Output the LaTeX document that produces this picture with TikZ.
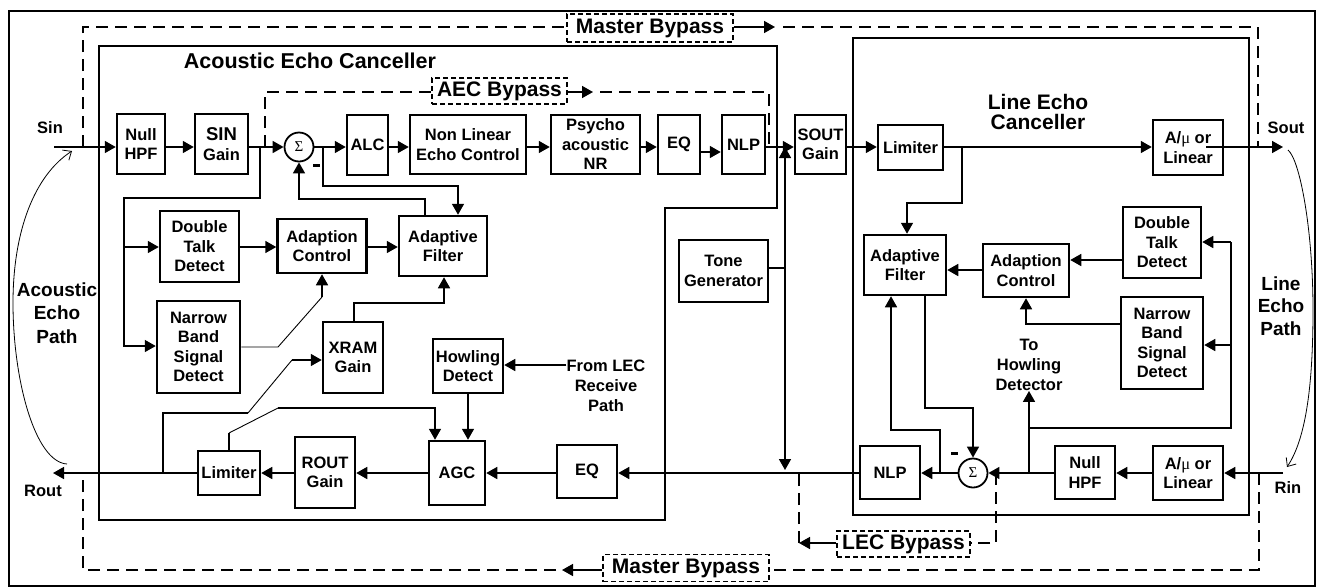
\documentclass[tikz,border=0pt]{standalone}
\usepackage{fontspec}
\setmainfont{Liberation Sans}
\newfontfamily\symfnt{Liberation Serif}
\usetikzlibrary{arrows.meta}

\newcommand\amutxt{A/{\symfnt\mdseries μ} or\\Linear}

\begin{document}
\begin{tikzpicture}[x=1pt,y=-1pt,
  blk/.style={draw,line width=2.5pt,inner sep=0pt,align=center,
    font=\fontsize{16.5}{19.5}\selectfont\bfseries},
  lbl/.style={inner sep=0pt,align=center,font=\fontsize{16.5}{20}\selectfont\bfseries},
  ttl/.style={inner sep=0pt,align=center,font=\fontsize{21}{20.5}\selectfont\bfseries},
  bylbl/.style={draw,line width=1.3pt,dash pattern=on 5pt off 3pt,inner sep=0pt,
    font=\fontsize{21}{21}\selectfont\bfseries},
  sumnode/.style={draw,circle,line width=1.8pt,minimum size=29pt,inner sep=0pt,
    font=\fontsize{15}{15}\selectfont\symfnt},
  minus/.style={fill,minimum width=7pt,minimum height=3pt,inner sep=0pt},
  wire/.style={line width=1.6pt},
  thinwire/.style={line width=0.9pt},
  sig/.style={wire,-{Triangle[length=11pt,width=12pt]}},
  byp/.style={line width=1.5pt,dash pattern=on 12pt off 7pt},
  echo/.style={line width=0.8pt,-{Straight Barb[length=7pt,width=12pt]}}]
  \useasboundingbox (0,0) rectangle (1322,587);
  \draw[line width=2pt] (9,11) rectangle (1315,586);

  % canceller outlines
  \draw[line width=2pt] (99,46) -- (777,46) -- (777,208) -- (665,208)
    -- (665,520) -- (99,520) -- cycle;
  \draw[line width=2pt] (853,38) rectangle (1249,515);
  \node[ttl,font=\fontsize{21.5}{21}\selectfont\bfseries] (ttlA) at (310,61) {Acoustic Echo Canceller};
  \node[ttl] (ttlL) at (1038,112) {Line Echo\\Canceller};

  % blocks
  \foreach \nm/\px/\py/\w/\h/\txt in {
    hpfA/141/144/48/60/{Null\\HPF},
    sinG/221.5/144/53/60/{{\fontsize{18.5}{19}\selectfont SIN}\\Gain},
    alc/367.5/145/41/60/{ALC},
    nlec/468/144.5/116/59/{Non Linear\\Echo Control},
    pnr/595.5/144.5/89/59/{Psycho\\acoustic\\NR},
    eqA/679/144.5/42/59/{EQ},
    nlpA/743.5/144.5/43/59/{NLP},
    soutG/820.5/144.5/51/59/{SOUT\\Gain},
    dtdA/199.5/246.5/79/71/{Double\\Talk\\Detect},
    adcA/322/246/89/54/{Adaption\\Control},
    afA/443/246/88/60/{Adaptive\\Filter},
    nbA/198.5/347/83/92/{Narrow\\Band\\Signal\\Detect},
    xram/353/357.5/60/71/{XRAM\\Gain},
    howl/468/366/70/54/{Howling\\Detect},
    tone/723.5/271/89/62/{Tone\\Generator},
    limA/229/473/62/44/{Limiter},
    routG/325/472.5/60/71/{ROUT\\Gain},
    agc/457/473/56/64/{AGC},
    eqR/587/471.5/60/53/{EQ},
    limL/910.5/147.5/65/45/{Limiter},
    amuT/1188/147.5/70/55/{\amutxt},
    afL/905/265/82/60/{Adaptive\\Filter},
    adcL/1026/270.5/86/53/{Adaption\\Control},
    dtdL/1162/242.5/78/71/{Double\\Talk\\Detect},
    nbL/1162/343/82/92/{Narrow\\Band\\Signal\\Detect},
    nlpL/890/472.5/60/53/{NLP},
    hpfL/1085/472.5/60/53/{Null\\HPF},
    amuB/1188/473/70/54/{\amutxt}}
    \node[blk,minimum width=\w pt,minimum height=\h pt] (\nm) at (\px,\py) {\txt};
  \node[sumnode] (sumA) at (299,147) {Σ};
  \node[sumnode] (sumL) at (973,473) {Σ};
  \node[minus] (minA) at (316,165) {};
  \node[minus] (minL) at (954,453) {};

  % labels
  \node[lbl] (sinLbl) at (50,128) {Sin};
  \node[lbl] (soutLbl) at (1286,128) {Sout};
  \node[lbl] (rinLbl) at (1288,488) {Rin};
  \node[lbl] (routLbl) at (43,491) {Rout};
  \node[lbl,font=\fontsize{19}{23.5}\selectfont\bfseries] (aePath) at (57,313) {Acoustic\\Echo\\Path};
  \node[lbl,font=\fontsize{19}{22.5}\selectfont\bfseries] (lePath) at (1281,306) {Line\\Echo\\Path};
  \node[lbl] (fromLec) at (606,386) {From LEC\\Receive\\Path};
  \node[lbl] (toHowl) at (1029,365) {To\\Howling\\Detector};
  \node[bylbl,minimum width=166pt,minimum height=28pt] (mbTop) at (650,28) {Master Bypass};
  \node[bylbl,minimum width=166pt,minimum height=27pt] (mbBot) at (686,568) {Master Bypass};
  \node[bylbl,minimum width=135pt,minimum height=26pt] (aecBy) at (499.5,91) {AEC Bypass};
  \node[bylbl,minimum width=133pt,minimum height=26pt] (lecBy) at (903.5,544) {LEC Bypass};

  \coordinate (sinIn) at (54,147);
  \coordinate (soutOut) at (1283,147);
  \coordinate (rinIn) at (1283,473);
  \coordinate (routOut) at (53,473);
  \coordinate (toneTap) at (785,268);

  % send path
  \draw[sig] (sinIn) -- (hpfA.west |- sinIn);
  \foreach \a/\b in {hpfA/sinG,alc/nlec,nlec/pnr,pnr/eqA,nlpA/soutG,soutG/limL,limL/amuT}
    \draw[sig] (\a.east |- sinIn) -- (\b.west |- sinIn);
  \draw[sig] (sinG.east |- sinIn) -- (sumA.west);
  \draw[sig] (sumA.east) -- (alc.west |- sinIn);
  \draw[sig] (eqA.east |- 0,152) -- (nlpA.west |- 0,152);
  \draw[sig] ([xshift=-18pt]amuT.east |- sinIn) -- (soutOut);

  % receive path
  \draw[sig] (rinIn) -- (amuB.east |- rinIn);
  \foreach \a/\b in {amuB/hpfL,nlpL/eqR,eqR/agc,agc/routG,routG/limA}
    \draw[sig] (\a.west |- rinIn) -- (\b.east |- rinIn);
  \draw[sig] (hpfL.west |- rinIn) -- (sumL.east);
  \draw[sig] (sumL.west) -- (nlpL.east |- rinIn);
  \draw[sig] (limA.west |- rinIn) -- (routOut);

  % tone generator
  \draw[wire] (tone.east |- toneTap) -- (toneTap);
  \draw[sig] (toneTap) -- (toneTap |- sinIn);
  \draw[sig] (toneTap) -- (toneTap |- 0,470);

  % AEC control
  \draw[sig] (260,147) |- (124,198) |- (nbA.west |- 0,346);
  \draw[sig] (124,247) -- (dtdA.west |- 0,247);
  \draw[sig] (dtdA.east |- 0,247) -- (adcA.west |- 0,247);
  \draw[sig] (adcA.east |- 0,247) -- (afA.west |- 0,247);
  \draw[sig] (323,147) |- (458,186) -- (afA.north -| 458,0);
  \draw[sig] (afA.north -| 425,0) |- (sumA.south |- 0,199) -- (sumA.south);
  \draw[thinwire] (nbA.east |- 0,347) -- (278,347) -- (adcA.south |- 0,297);
  \draw[sig] (adcA.south |- 0,297) -- (adcA.south);
  \draw[wire] (routOut -| 163,0) |- (248,413);
  \draw[thinwire] (248,413) -- (292,360);
  \draw[sig] (292,360) -- (xram.west |- 0,360);
  \draw[sig] (xram.north -| 354,0) |- (444,303) -- (afA.south -| 444,0);
  \draw[wire] (limA.north) -- (limA.north |- 0,433);
  \draw[thinwire] (limA.north |- 0,433) -- (278,408);
  \draw[sig] (278,408) -| (agc.north -| 435,0);
  \draw[sig] (howl.south) -- (howl.south |- agc.north);
  \draw[sig] (fromLec.west |- 0,365) -- (howl.east |- 0,365);

  % LEC control
  \draw[sig] (962,147) |- (907,203) -- (afL.north -| 907,0);
  \draw[sig] (adcL.west |- 0,270) -- (afL.east |- 0,270);
  \draw[sig] (dtdL.west |- 0,260) -- (adcL.east |- 0,260);
  \draw[sig] (nbL.west |- 0,324) -| (adcL.south);
  \draw[sig] (toHowl.south |- rinIn) -- (toHowl.south);
  \draw[wire] (toHowl.south |- 0,428) -| (1231,242);
  \draw[sig] (1231,242) -- (dtdL.east |- 0,242);
  \draw[sig] (1231,345) -- (nbL.east |- 0,345);
  \draw[sig] (afL.south -| 925,0) |- (sumL.north |- 0,408) -- (sumL.north);
  \draw[sig] (940,473) |- (891,430) -- (afL.south -| 891,0);

  % bypass paths
  \draw[byp] (sinIn -| 83,0) -- (83,27) -- (mbTop.west |- 0,27);
  \draw[sig] (mbTop.east |- 0,27) -- (775,27);
  \draw[byp] (783,27) -- (1258,27) -- (1258,147);
  \draw[byp] (1259,473) -- (1259,570) -- (mbBot.east |- 0,570);
  \draw[sig] (mbBot.west |- 0,570) -- (562,570);
  \draw[byp] (556,570) -- (83,570) -- (83,473);
  \draw[byp] (265,147) -- (265,92) -- (aecBy.west |- 0,92);
  \draw[sig] (aecBy.east |- 0,92) -- (593,92);
  \draw[byp] (600,92) -| (769,147);
  \draw[byp] (996,473) -- (996,543) -- (lecBy.east |- 0,543);
  \draw[sig] (lecBy.west |- 0,543) -- (799,543);
  \draw[byp] (799,543) -- (799,473);

  % echo paths
  \draw[echo] (67,464) .. controls (35,462) and (13,380) .. (13,303)
    .. controls (13,230) and (35,175) .. (72,151);
  \draw[echo] (1288,150) .. controls (1300,160) and (1313,230) .. (1313,310)
    .. controls (1313,390) and (1305,440) .. (1287,467);
\end{tikzpicture}
\end{document}
